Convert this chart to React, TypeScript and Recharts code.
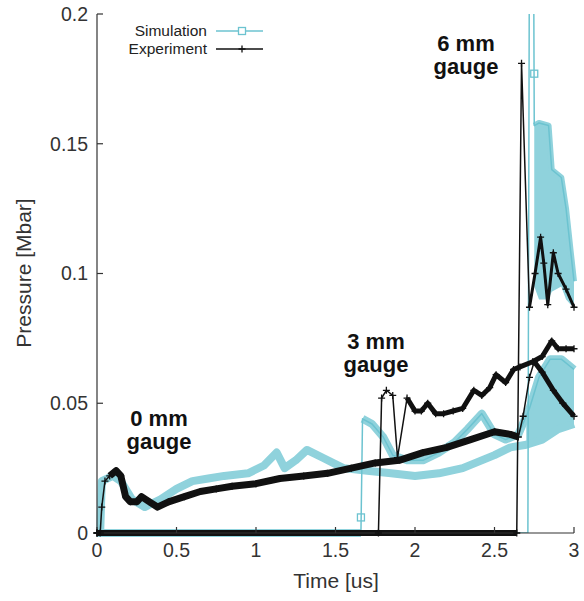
import { ComposedChart, Line, Area, Scatter, XAxis, YAxis } from 'recharts'

// time [us] / pressure [Mbar]
const EXP0_T = [0, 0.02, 0.03, 0.05, 0.08, 0.12, 0.15, 0.18, 0.21, 0.25, 0.28, 0.33, 0.38, 0.45, 0.55, 0.65, 0.75, 0.85, 1.0, 1.15, 1.3, 1.45, 1.6, 1.75, 1.9, 2.05, 2.2, 2.35, 2.5, 2.6, 2.65, 2.68, 2.72, 2.75, 2.8, 2.87, 2.93, 3.0]
const EXP0_P = [0, 0, 0.01, 0.02, 0.022, 0.024, 0.022, 0.014, 0.012, 0.012, 0.014, 0.012, 0.01, 0.012, 0.014, 0.016, 0.017, 0.018, 0.019, 0.021, 0.022, 0.023, 0.025, 0.027, 0.028, 0.031, 0.033, 0.036, 0.039, 0.038, 0.037, 0.045, 0.06, 0.066, 0.062, 0.055, 0.05, 0.045]

const EXP3_T = [0, 1.77, 1.79, 1.82, 1.86, 1.89, 1.95, 2.0, 2.04, 2.08, 2.13, 2.18, 2.24, 2.3, 2.37, 2.42, 2.47, 2.51, 2.57, 2.62, 2.66, 2.74, 2.8, 2.86, 2.9, 2.95, 3.0]
const EXP3_P = [0, 0, 0.052, 0.055, 0.053, 0.029, 0.052, 0.047, 0.047, 0.05, 0.046, 0.046, 0.047, 0.048, 0.055, 0.053, 0.056, 0.061, 0.058, 0.063, 0.064, 0.066, 0.068, 0.074, 0.071, 0.071, 0.071]

const EXP6_T = [0, 2.64, 2.67, 2.72, 2.755, 2.79, 2.81, 2.835, 2.87, 2.9, 2.95, 3.0]
const EXP6_P = [0, 0, 0.181, 0.087, 0.1, 0.114, 0.104, 0.088, 0.108, 0.1, 0.094, 0.087]

const SIM0_T = [0, 0.02, 0.03, 0.1, 0.15, 0.22, 0.3, 0.4, 0.5, 0.6, 0.7, 0.8, 0.95, 1.05, 1.13, 1.18, 1.25, 1.32, 1.42, 1.55, 1.7, 1.85, 2.0, 2.15, 2.3, 2.5, 2.6, 2.7, 2.8, 2.9, 3.0]
const SIM0_P = [0, 0, 0.02, 0.022, 0.02, 0.013, 0.01, 0.013, 0.017, 0.02, 0.021, 0.022, 0.023, 0.026, 0.031, 0.025, 0.028, 0.032, 0.029, 0.025, 0.024, 0.023, 0.022, 0.023, 0.025, 0.03, 0.033, 0.034, 0.036, 0.04, 0.042]

const SIM3_T = [0, 1.66, 1.67, 1.73, 1.8, 1.86, 1.95, 2.05, 2.15, 2.25, 2.33, 2.42, 2.5, 2.57, 2.65, 2.72, 2.78, 2.85, 2.92, 3.0]
const SIM3_P = [0, 0, 0.044, 0.042, 0.037, 0.03, 0.028, 0.028, 0.031, 0.035, 0.04, 0.046, 0.038, 0.036, 0.038, 0.048, 0.06, 0.067, 0.067, 0.063]

const SIM6_T = [0, 2.71, 2.72, 2.745, 2.75, 2.78, 2.84, 2.86, 2.92, 2.95, 2.98, 3.0]
const SIM6_P = [0, 0, 0.24, 0.24, 0.157, 0.158, 0.157, 0.14, 0.137, 0.125, 0.108, 0.097]

// noisy stretches of the simulations fill bands
const SIM6_BAND_T = [2.75, 2.78, 2.84, 2.86, 2.92, 2.95, 2.98, 3.0]
const SIM6_BAND_LO = [0.095, 0.09, 0.09, 0.093, 0.095, 0.09, 0.088, 0.088]
const SIM6_BAND_HI = [0.157, 0.158, 0.157, 0.14, 0.137, 0.125, 0.108, 0.097]

const SIM_TAIL_T = [2.7, 2.76, 2.82, 2.9, 2.96, 3.0]
const SIM_TAIL_LO = [0.034, 0.036, 0.038, 0.04, 0.041, 0.042]
const SIM_TAIL_HI = [0.042, 0.058, 0.066, 0.068, 0.066, 0.063]

const SIM_MARK_T = [1.66, 2.75]
const SIM_MARK_P = [0.006, 0.177]

const X_TICKS = [0, 0.5, 1, 1.5, 2, 2.5, 3]
const Y_TICKS = [0, 0.05, 0.1, 0.15, 0.2]

type Pt = { t: number; p: number }
const zip = (t: number[], p: number[]): Pt[] => t.map((x, i) => ({ t: x, p: p[i] }))
const seg = (pts: Pt[], a: number, b: number) => pts.filter((d) => d.t >= a && d.t <= b)
const band = (t: number[], lo: number[], hi: number[]) => t.map((x, i) => ({ t: x, r: [lo[i], hi[i]] }))

const W = 584
const H = 601
const CYAN = '#8fd2dc'
const CYAN_LINE = '#6cc3d0'
const INK = '#111'
const FRAME = '#333'
const FONT = '"Liberation Sans", Arial, Helvetica, sans-serif'
const TICK = { fill: '#333', fontSize: 19.5, fontFamily: FONT }

const plus = (props: any) => {
  const { cx, cy, index } = props
  if (cx == null || cy == null) return <g key={`p${index}`} />
  return (
    <path
      key={`p${index}`}
      d={`M${cx - 3.5},${cy}h7M${cx},${cy - 3.5}v7`}
      stroke={INK}
      strokeWidth={1.3}
    />
  )
}

const square = (props: any) => {
  const { cx, cy } = props
  return <rect x={cx - 3.5} y={cy - 3.5} width={7} height={7} fill="none" stroke={CYAN_LINE} strokeWidth={1.3} />
}

export default function App() {
  const exp0 = zip(EXP0_T, EXP0_P)
  const exp3 = zip(EXP3_T, EXP3_P)
  const exp6 = zip(EXP6_T, EXP6_P)
  const sim0 = zip(SIM0_T, SIM0_P)
  const sim3 = zip(SIM3_T, SIM3_P)
  const sim6 = zip(SIM6_T, SIM6_P)
  const band6 = band(SIM6_BAND_T, SIM6_BAND_LO, SIM6_BAND_HI)
  const tail = band(SIM_TAIL_T, SIM_TAIL_LO, SIM_TAIL_HI)
  const marks = zip(SIM_MARK_T, SIM_MARK_P)

  const thick = (data: Pt[], color: string, w: number, key: string, yId: any = 0) => (
    <Line
      key={key}
      data={data}
      dataKey="p"
      yAxisId={yId}
      type="linear"
      stroke={color}
      strokeWidth={w}
      strokeLinejoin="round"
      dot={false}
      activeDot={false}
      isAnimationActive={false}
    />
  )

  const fill = (data: any[], key: string) => (
    <Area
      key={key}
      data={data}
      dataKey="r"
      type="linear"
      stroke="none"
      fill={CYAN}
      fillOpacity={1}
      dot={false}
      activeDot={false}
      isAnimationActive={false}
    />
  )

  return (
    <div style={{ position: 'absolute', left: 0, top: 0, width: W, height: H, background: '#fff' }}>
      <ComposedChart width={W} height={H} margin={{ top: 14, right: 10, bottom: 38, left: 37 }}>
        <XAxis
          dataKey="t"
          type="number"
          domain={[0, 3]}
          ticks={X_TICKS}
          interval={0}
          height={30}
          tickSize={-6}
          tickMargin={16}
          tick={TICK}
          stroke={FRAME}
          strokeWidth={1.2}
        />
        <XAxis
          xAxisId="top"
          orientation="top"
          dataKey="t"
          type="number"
          domain={[0, 3]}
          ticks={X_TICKS}
          interval={0}
          height={0}
          tickSize={-6}
          tickFormatter={() => ''}
          stroke={FRAME}
          strokeWidth={1.2}
        />
        <YAxis
          type="number"
          domain={[0, 0.2]}
          ticks={Y_TICKS}
          interval={0}
          width={60}
          tickSize={-6}
          tickMargin={15}
          tick={TICK}
          stroke={FRAME}
          strokeWidth={1.2}
        />
        <YAxis
          yAxisId="right"
          orientation="right"
          type="number"
          domain={[0, 0.2]}
          ticks={Y_TICKS}
          interval={0}
          width={0}
          tickSize={-6}
          tickFormatter={() => ''}
          stroke={FRAME}
          strokeWidth={1.2}
        />
        <YAxis yAxisId="s6" type="number" domain={[0, 0.2]} allowDataOverflow hide />

        {/* simulation */}
        {fill(band6, 'b6')}
        {fill(tail, 'bt')}
        {thick(sim0, CYAN, 8, 's0')}
        {thick(seg(sim3, 0, 1.66), CYAN, 8, 's3a')}
        {thick(seg(sim3, 1.67, 3), CYAN, 8, 's3b')}
        {thick(sim3, CYAN_LINE, 1.5, 's3c')}
        {thick(seg(sim6, 2.75, 3), CYAN, 6, 's6a')}
        {thick(sim6, CYAN_LINE, 1.5, 's6b', 's6')}
        <Scatter data={marks} dataKey="p" shape={square} isAnimationActive={false} />

        {/* experiment */}
        {thick(seg(exp0, 0.08, 2.66), INK, 7, 'e0a')}
        {thick(seg(exp0, 2.75, 3), INK, 5, 'e0b')}
        {thick(seg(exp3, 0, 1.77), INK, 6, 'e3a')}
        {thick(seg(exp3, 1.95, 3), INK, 5, 'e3b')}
        {thick(seg(exp6, 0, 2.64), INK, 6, 'e6a')}
        {thick(seg(exp6, 2.72, 3), INK, 3, 'e6b')}
        {[exp0, exp3, exp6].map((d, i) => (
          <Line
            key={`e${i}`}
            data={d}
            dataKey="p"
            type="linear"
            stroke={INK}
            strokeWidth={1.5}
            dot={plus}
            activeDot={false}
            isAnimationActive={false}
          />
        ))}
      </ComposedChart>

      <svg
        width={W}
        height={H}
        style={{ position: 'absolute', left: 0, top: 0, pointerEvents: 'none' }}
        fontFamily={FONT}
      >
        <text transform="translate(31,273) rotate(-90)" textAnchor="middle" fontSize={21} fill="#333">
          Pressure [Mbar]
        </text>
        <text x={336} y={588} textAnchor="middle" fontSize={21} fill="#333">
          Time [us]
        </text>

        <text x={207} y={36} textAnchor="end" fontSize={15.5} fill="#222">Simulation</text>
        <line x1={216} x2={263} y1={31} y2={31} stroke={CYAN_LINE} strokeWidth={1.5} />
        <rect x={238.5} y={27.5} width={7} height={7} fill="#fff" stroke={CYAN_LINE} strokeWidth={1.3} />
        <text x={207} y={54} textAnchor="end" fontSize={15.5} fill="#222">Experiment</text>
        <line x1={216} x2={263} y1={49} y2={49} stroke={INK} strokeWidth={1.5} />
        <path d="M238.5,49h7M242,45.5v7" stroke={INK} strokeWidth={1.3} />

        <g fontSize={22} fontWeight="bold" fill={INK} textAnchor="middle">
          <text x={159} y={426}>0 mm</text>
          <text x={159} y={449}>gauge</text>
          <text x={376} y={349}>3 mm</text>
          <text x={376} y={372}>gauge</text>
          <text x={466} y={51}>6 mm</text>
          <text x={466} y={74}>gauge</text>
        </g>
      </svg>
    </div>
  )
}
